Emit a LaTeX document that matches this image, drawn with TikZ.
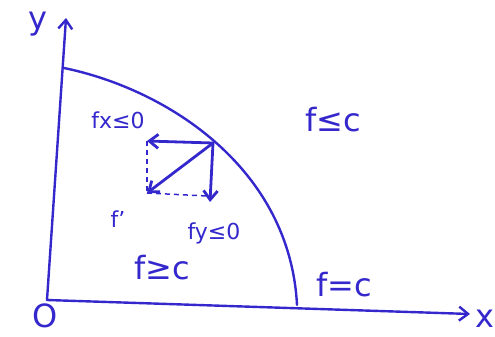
\documentclass[tikz,border=0pt]{standalone}
\usepackage{fontspec}
\setmainfont{DejaVu Sans}
\usetikzlibrary{arrows.meta}
\definecolor{pen}{RGB}{52,40,205}
\tikzset{
  >={Straight Barb[length=9pt,width=14pt]},
  ax/.style={->,draw=pen,line width=2.4pt,line cap=round},
  crv/.style={draw=pen,line width=2.4pt,line cap=round},
  vec/.style={->,draw=pen,line width=2.8pt,line cap=round},
  dsh/.style={draw=pen,line width=1.5pt,dash pattern=on 5pt off 4pt},
  biglbl/.style={text=pen,font=\fontsize{32}{34}\selectfont,inner sep=0pt},
  smlbl/.style={text=pen,font=\fontsize{22}{24}\selectfont,inner sep=0pt},
}
\begin{document}
\begin{tikzpicture}[x=1pt,y=-1pt]
  \useasboundingbox (0,0) rectangle (495,337);
  % axes
  \coordinate (o) at (47,300);
  \coordinate (ytop) at (66,18);
  \coordinate (xend) at (470,314);
  \draw[ax] (o) -- (ytop);
  \draw[ax] (o) -- (xend);
  \node[biglbl] (olbl) at (45,316) {O};
  \node[biglbl] (ylbl) at (38,24) {y};
  \node[biglbl] (xlbl) at (485,319) {x};
  % level curve f=c
  \coordinate (cs) at (64,68);
  \coordinate (ce) at (297,305);
  \draw[crv] (cs) .. controls (170,90) and (290,170) .. (ce);
  % gradient and its parts
  \coordinate (p) at (213,143);
  \coordinate (px) at (147,141);
  \coordinate (py) at (210,202);
  \coordinate (pf) at (147,193);
  \coordinate (pd) at (207,196);
  \draw[vec] (p) -- (px);
  \draw[vec] (p) -- (py);
  \draw[vec] (p) -- (pf);
  \draw[dsh] (px) -- (pf);
  \draw[dsh] (pf) -- (pd);
  % labels
  \node[smlbl] (fx) at (118,120) {fx≤0};
  \node[smlbl] (fp) at (118,219) {f'};
  \node[smlbl] (fy) at (214,233) {fy≤0};
  \node[biglbl] (le) at (333,120) {f≤c};
  \node[biglbl] (ge) at (162,268) {f≥c};
  \node[biglbl] (eq) at (344,285) {f=c};
\end{tikzpicture}
\end{document}
